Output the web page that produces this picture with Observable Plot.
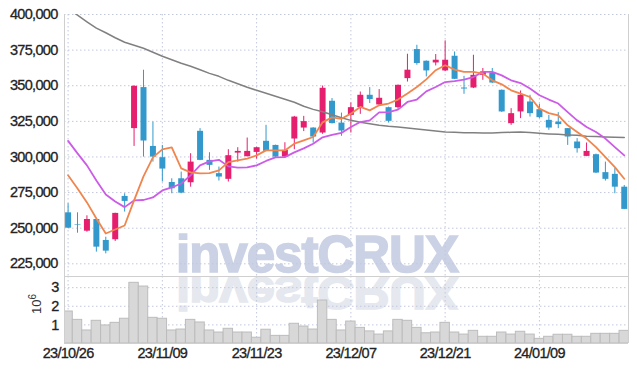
<!DOCTYPE html>
<html><head><meta charset="utf-8">
<script src="https://cdn.jsdelivr.net/npm/d3@7"></script>
<script src="https://cdn.jsdelivr.net/npm/@observablehq/plot@0.6"></script>
<style>
body{margin:0;background:#fff;}
#chart{position:relative;width:637px;height:370px;overflow:hidden;font-family:"Liberation Sans",Arial,sans-serif;}
#chart svg{position:absolute;left:0;}
#chart svg.ax text{letter-spacing:-0.7px;stroke:#222;stroke-width:0.3px;}
</style></head><body><div id="chart"></div>
<script>
const dates = ["23/10/26","23/10/27","23/10/30","23/10/31","23/11/01","23/11/02","23/11/03","23/11/06","23/11/07","23/11/08",
"23/11/09","23/11/10","23/11/13","23/11/14","23/11/15","23/11/16","23/11/17","23/11/20","23/11/21","23/11/22",
"23/11/23","23/11/24","23/11/27","23/11/28","23/11/29","23/11/30","23/12/01","23/12/04","23/12/05","23/12/06",
"23/12/07","23/12/08","23/12/11","23/12/12","23/12/13","23/12/14","23/12/15","23/12/18","23/12/19","23/12/20",
"23/12/21","23/12/22","23/12/26","23/12/27","23/12/28","24/01/02","24/01/03","24/01/04","24/01/05","24/01/08",
"24/01/09","24/01/10","24/01/11","24/01/12","24/01/15","24/01/16","24/01/17","24/01/18","24/01/19","24/01/22"];
const open  = [260800,252600,247900,256100,241400,241900,272300,319900,348700,307400,299500,282100,284700,281900,318000,297600,288300,284300,302700,300200,303200,311000,308100,299900,312600,320300,320300,316800,339100,323800,329200,334600,343300,336500,334600,334600,355000,375400,367200,366000,360400,370700,348400,348400,357300,359000,346800,323400,331600,338600,333200,325700,324500,319900,310500,300400,301600,289000,287800,278800];
const high  = [267200,260800,258700,256200,243700,260500,274200,350000,360900,324500,308100,284700,289400,302300,319900,303000,292900,305100,306500,313300,306800,322200,308300,310000,328500,328500,320500,349800,341000,330800,337900,345600,348700,347300,335000,350500,372100,378400,367400,371900,381500,373700,356600,371400,362100,362100,347000,333900,346300,343300,337000,329200,331100,320000,312900,309800,302000,296400,291800,280000];
const low   = [249800,246500,247200,233200,232000,240700,261300,307400,299900,296400,282400,274200,274200,278800,297400,290600,283100,282400,296400,300000,298500,303700,299700,299800,305100,317800,309800,315900,323200,314500,316800,329900,337500,335600,323800,333500,352600,364400,356200,363900,360000,354300,344000,348000,353800,351500,331300,322200,326900,328000,326900,318700,319900,308100,302700,300200,288400,283100,274200,263000];
const close = [250000,252200,256100,236700,233900,260400,268800,349600,311200,299900,291500,277700,274600,296400,297600,294100,285900,300900,303900,303900,306500,303900,299900,304600,328000,324800,314000,348200,323400,318200,334600,343300,340300,341200,325000,350300,360900,365600,360400,367900,367900,354500,347700,357300,359700,351900,331600,330400,343300,330400,327600,320300,322700,314000,305800,303900,288700,284300,278800,263200];
const maShort = [287100,277900,268100,256800,246300,249100,251900,269500,286400,299700,305300,306700,292000,289200,288500,288700,290600,296400,297600,298800,301100,304600,304600,304600,309300,311700,314000,324300,327800,326800,330400,335100,332700,336300,337500,340300,344500,349100,354500,360900,364400,361300,359700,359700,358500,353800,351000,346800,344500,342100,333900,330800,329200,322200,317500,312900,306900,299900,292900,284700];
const maMid = [311300,302500,294100,283500,273700,268800,264800,269500,269800,271600,276500,278600,281400,287100,294100,296900,298000,293400,292500,292700,294100,297200,299700,299900,303200,306000,309300,313800,315500,316900,321000,324500,325700,331300,331500,333200,338600,340300,346000,349100,352600,353300,354300,356100,359700,359700,357300,353800,351900,348000,343300,340300,337500,331500,325700,321000,317500,312900,306900,301100];
const maLong = [404100,399500,394900,390400,387200,383700,380500,378400,376300,373500,370700,368200,365800,363700,361200,358700,356600,353800,351400,348900,346800,344700,342600,340500,338400,335600,333400,331700,329600,327500,325700,324300,323300,322200,321500,321000,320400,319700,319000,318300,317600,317300,317000,317000,316800,316800,317100,317300,317500,317100,316600,316200,315900,315500,315200,314600,314300,314000,313800,313600];
const volume = [1.72,1.27,0.70,1.22,0.97,1.11,1.33,3.26,3.06,1.38,1.33,0.70,0.75,1.27,1.13,0.70,0.59,0.79,0.59,0.59,0.31,0.74,0.41,0.41,1.06,0.91,0.75,2.31,1.27,0.70,1.18,0.84,0.65,0.48,0.65,1.27,1.22,0.84,0.55,0.59,1.11,0.59,0.48,0.68,0.36,0.36,0.59,0.48,0.63,0.48,0.25,0.36,0.47,0.47,0.36,0.36,0.52,0.52,0.52,0.68];
const priceTicks = [225000,250000,275000,300000,325000,350000,375000,400000];
const volumeTicks = [1,2,3];
const dateTickIndex = [0,10,20,30,40,50];

const rows = dates.map((d,i)=>({i, date:d, open:open[i], high:high[i], low:low[i], close:close[i], maShort:maShort[i], maMid:maMid[i], maLong:maLong[i], vol:volume[i]}));
const UP = "#e61e6e", DOWN = "#3399cc";
const col = d => d.close >= d.open ? UP : DOWN;
const gridColor = "#c2c8dc";
const frameColor = "#cfcfcf";
const xDomain = [-0.38, 59.45];
const font = '"Liberation Sans",Arial,sans-serif';
const baseStyle = {fontSize:"14.5px", fontFamily:font, color:"#222", background:"transparent", overflow:"visible"};
const chart = document.getElementById("chart");

// watermark (behind)
const ns = "http://www.w3.org/2000/svg";
const wm = document.createElementNS(ns, "svg");
wm.setAttribute("width", 637); wm.setAttribute("height", 370);
wm.style.top = "0px";
const wmFont = `font-family="Liberation Sans, Arial, sans-serif" font-weight="bold" font-size="51" letter-spacing="-1"`;
wm.innerHTML = `
<text x="176" y="271.7" ${wmFont} fill="#cbd2e5" stroke="#cbd2e5" stroke-width="1.6">investCRUX</text>
<g transform="translate(0,${276.7 + 271.7*0.9}) scale(1,-0.9)"><text x="176" y="271.7" ${wmFont} fill="#e5e8ef" stroke="#e5e8ef" stroke-width="1.6">investCRUX</text></g>`;
chart.appendChild(wm);

const price = Plot.plot({
  width: 637, height: 276,
  marginLeft: 64, marginRight: 9, marginTop: 14, marginBottom: 0,
  style: baseStyle,
  x: {domain: xDomain, axis: null},
  y: {domain: [216100, 400000], label: null},
  marks: [
    Plot.gridY(priceTicks, {stroke: gridColor, strokeOpacity: 1, strokeDasharray: "1.5,2.5"}),
    Plot.gridX(dateTickIndex, {stroke: gridColor, strokeOpacity: 1, strokeDasharray: "1.5,2.5"}),
    Plot.axisY(priceTicks, {tickSize: 0, tickPadding: 7, tickFormat: d3.format(","), fill: "#222", label: null}),
    Plot.ruleX(xDomain, {stroke: frameColor}),
    Plot.ruleX(rows, {x: "i", y1: "low", y2: "high", stroke: col, strokeWidth: 1}),
    Plot.ruleX(rows, {x: "i", y1: "open", y2: "close", stroke: col, strokeWidth: 6}),
    Plot.line(rows, {x: "i", y: "maLong", stroke: "#808080", strokeWidth: 1.5, clip: true}),
    Plot.line(rows, {x: "i", y: "maMid", stroke: "#cc5be8", strokeWidth: 1.8, clip: true}),
    Plot.line(rows, {x: "i", y: "maShort", stroke: "#f0864e", strokeWidth: 1.8, clip: true})
  ]
});
price.style.top = "0px";
price.classList.add("ax");
chart.appendChild(price);

const vol = Plot.plot({
  width: 637, height: 94,
  marginLeft: 64, marginRight: 9, marginTop: 0, marginBottom: 27,
  style: baseStyle,
  x: {domain: xDomain, label: null},
  y: {domain: [0, 3.6], label: null},
  marks: [
    Plot.gridY(volumeTicks, {stroke: gridColor, strokeOpacity: 1, strokeDasharray: "1.5,2.5"}),
    Plot.gridX(dateTickIndex, {stroke: gridColor, strokeOpacity: 1, strokeDasharray: "1.5,2.5"}),
    Plot.rectY(rows, {x1: d => d.i - 0.5, x2: d => d.i + 0.5, y: "vol", fill: "#d8d8d8", stroke: "#bcbcbc", strokeWidth: 1, clip: true}),
    Plot.axisY(volumeTicks, {tickSize: 0, tickPadding: 6, fill: "#222", label: null}),
    Plot.axisX(dateTickIndex, {tickSize: 0, tickPadding: 4, tickFormat: i => dates[i], fill: "#222", label: null}),
    Plot.ruleX(xDomain, {stroke: frameColor}),
    Plot.ruleY([0, 3.6], {stroke: frameColor})
  ]
});
vol.style.top = "276px";
vol.classList.add("ax");
chart.appendChild(vol);

// 10^6 unit label
const unit = document.createElementNS(ns, "svg");
unit.setAttribute("width", 637); unit.setAttribute("height", 370);
unit.style.top = "0px"; unit.style.pointerEvents = "none";
unit.innerHTML = `<text transform="translate(41,314) rotate(-90)" font-family='${font}' font-size="13" fill="#333">10<tspan dy="-5" font-size="10">6</tspan></text>`;
chart.appendChild(unit);
</script></body></html>
